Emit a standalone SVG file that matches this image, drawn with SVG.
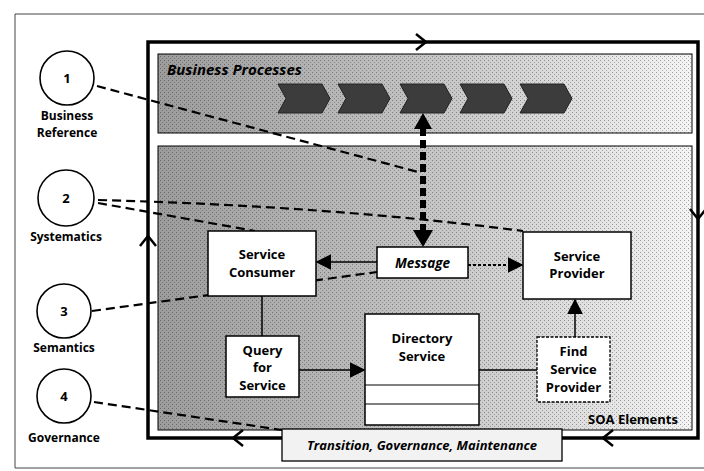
<svg xmlns="http://www.w3.org/2000/svg" width="704" height="471" viewBox="0 0 704 471">
<defs>
<linearGradient id="stip" x1="0" y1="0" x2="1" y2="0">
<stop offset="0" stop-color="#9c9c9c"/>
<stop offset="0.55" stop-color="#c8c8c8"/>
<stop offset="1" stop-color="#f4f4f4"/>
</linearGradient>
<pattern id="dots" width="4" height="4" patternUnits="userSpaceOnUse">
<rect x="0" y="0" width="1" height="1" fill="#000" opacity="0.35"/>
<rect x="2" y="2" width="1" height="1" fill="#000" opacity="0.25"/>
</pattern>
<marker id="ahBig" viewBox="0 0 10 10" refX="9" refY="5" markerWidth="16" markerHeight="16" markerUnits="userSpaceOnUse" orient="auto">
<path d="M0,0 L10,5 L0,10 z" fill="#000"/>
</marker>
</defs>
<style>
.box{fill:#fff;stroke:#000;stroke-width:1.5}
.circ{fill:#fff;stroke:#000;stroke-width:1.6}
.t{font-family:"Open Sans","DejaVu Sans",sans-serif;font-weight:bold;font-size:13px;fill:#000;text-anchor:middle}
.lbl{font-family:"Open Sans","DejaVu Sans",sans-serif;font-weight:bold;font-size:12px;fill:#000;text-anchor:middle}
.ti{font-family:"Open Sans","DejaVu Sans",sans-serif;font-weight:bold;font-style:italic;fill:#000}
.dash{fill:none;stroke:#000;stroke-width:2.2;stroke-dasharray:9 5}
.solid{fill:none;stroke:#000;stroke-width:1.5}
.chev{fill:#3c3c3c;stroke:#222;stroke-width:1}
.frame{fill:none;stroke:#000;stroke-width:3.5}
.open{fill:none;stroke:#000;stroke-width:2.5}
</style>
<rect width="704" height="471" fill="#fff"/>
<path d="M704 14 H15 V468 H704" fill="none" stroke="#444" stroke-width="1"/>
<g id="business-processes">
<rect x="158" y="54" width="534" height="79" fill="url(#stip)" stroke="#000" stroke-width="1"/>
<rect x="158" y="54" width="534" height="79" fill="url(#dots)"/>
<text class="ti" x="167" y="75" font-size="15">Business Processes</text>
<polygon class="chev" points="278,84 322,84 330,98.5 322,113 278,113 286,98.5"/>
<polygon class="chev" points="338,84 382,84 390,98.5 382,113 338,113 346,98.5"/>
<polygon class="chev" points="400,84 444,84 452,98.5 444,113 400,113 408,98.5"/>
<polygon class="chev" points="460,84 504,84 512,98.5 504,113 460,113 468,98.5"/>
<polygon class="chev" points="520,84 564,84 572,98.5 564,113 520,113 528,98.5"/>
</g>
<g id="soa-elements">
<rect x="158" y="146" width="534" height="284" fill="url(#stip)" stroke="#000" stroke-width="1"/>
<rect x="158" y="146" width="534" height="284" fill="url(#dots)"/>
<text class="t" x="633" y="424" font-size="14">SOA Elements</text>
</g>
<g id="frame">
<rect class="frame" x="148" y="42" width="550" height="396"/>
<path class="open" d="M416 34 L426 42 L416 50"/>
<path class="open" d="M690 209 L698 219 L706 209"/>
<path class="open" d="M243 430 L233 438 L243 446"/>
<path class="open" d="M613 430 L603 438 L613 446"/>
<path class="open" d="M140 246 L148 236 L156 246"/>
</g>
<g id="connectors">
<path class="dash" d="M97 86 L418 172"/>
<path class="dash" d="M98 200 Q 330 206 523 231"/>
<path class="dash" d="M98 203 L255 231"/>
<path class="dash" d="M92 311 L377 272"/>
<path class="dash" d="M94 402 L282 430"/>
<path d="M423 128 V232" fill="none" stroke="#000" stroke-width="6" stroke-dasharray="8 4"/>
<path d="M414 129 L423 113 L432 129 z" fill="#000"/>
<path d="M413 230 L423 247 L433 230 z" fill="#000"/>
<path class="solid" d="M377 262 H317" marker-end="url(#ahBig)"/>
<path d="M468 265 H522" fill="none" stroke="#000" stroke-width="1.8" stroke-dasharray="3 2" marker-end="url(#ahBig)"/>
<path class="solid" d="M262 296 V336"/>
<path class="solid" d="M299 370 H364" marker-end="url(#ahBig)"/>
<path class="solid" d="M479 370 H537"/>
<path class="solid" d="M575 337 V300" marker-end="url(#ahBig)"/>
</g>
<g id="service-consumer">
<rect class="box" x="208" y="231" width="108" height="65"/>
<text class="t" x="262" y="259">Service</text>
<text class="t" x="262" y="277">Consumer</text>
</g>
<g id="message">
<rect class="box" x="377" y="247" width="91" height="31"/>
<text class="ti" x="422.5" y="268" font-size="13.5" text-anchor="middle">Message</text>
</g>
<g id="service-provider">
<rect class="box" x="523" y="232" width="108" height="67"/>
<text class="t" x="577" y="261">Service</text>
<text class="t" x="577" y="278">Provider</text>
</g>
<g id="query-for-service">
<rect class="box" x="226" y="336" width="73" height="61"/>
<text class="t" x="262.5" y="355">Query</text>
<text class="t" x="262.5" y="372">for</text>
<text class="t" x="262.5" y="390">Service</text>
</g>
<g id="directory-service">
<rect class="box" x="365" y="314" width="114" height="111"/>
<text class="t" x="422" y="343">Directory</text>
<text class="t" x="422" y="361">Service</text>
<line x1="365" y1="385" x2="479" y2="385" stroke="#000" stroke-width="1.2"/>
<line x1="365" y1="404" x2="479" y2="404" stroke="#000" stroke-width="1.2"/>
</g>
<g id="find-service-provider">
<rect x="537" y="337" width="73" height="65" fill="#fff" stroke="#000" stroke-width="1.3" stroke-dasharray="3 1.5"/>
<text class="t" x="573.5" y="356">Find</text>
<text class="t" x="573.5" y="374">Service</text>
<text class="t" x="573.5" y="392">Provider</text>
</g>
<g id="transition-governance-maintenance">
<rect x="282" y="429" width="280" height="32" fill="#f2f2f2" stroke="#000" stroke-width="1.3"/>
<text class="ti" x="422" y="450" font-size="13" text-anchor="middle">Transition, Governance, Maintenance</text>
</g>
<g id="c1-business-reference">
<circle class="circ" cx="67" cy="78" r="27"/>
<text class="t" x="67" y="83">1</text>
<text class="lbl" x="67" y="120">Business</text>
<text class="lbl" x="67" y="137">Reference</text>
</g>
<g id="c2-systematics">
<circle class="circ" cx="66" cy="198" r="28"/>
<text class="t" x="66" y="203">2</text>
<text class="lbl" x="66" y="241">Systematics</text>
</g>
<g id="c3-semantics">
<circle class="circ" cx="64" cy="311" r="27"/>
<text class="t" x="64" y="316">3</text>
<text class="lbl" x="64" y="352">Semantics</text>
</g>
<g id="c4-governance">
<circle class="circ" cx="64" cy="396" r="27"/>
<text class="t" x="64" y="401">4</text>
<text class="lbl" x="64" y="442">Governance</text>
</g>
</svg>
